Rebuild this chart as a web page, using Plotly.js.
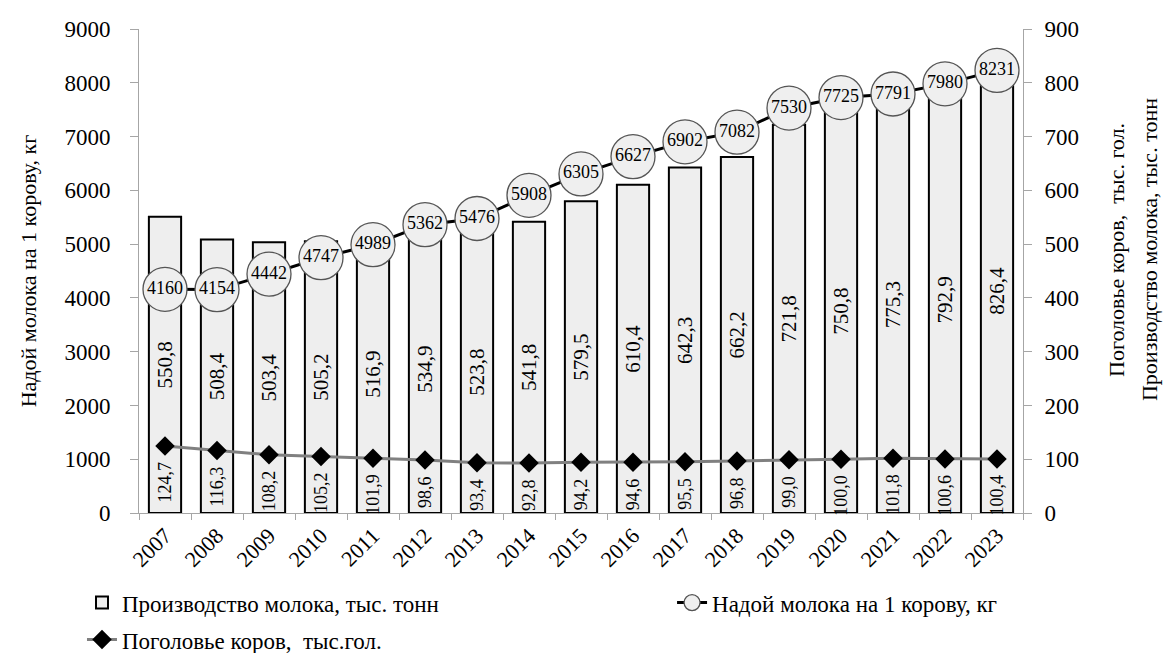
<!DOCTYPE html>
<html>
<head>
<meta charset="utf-8">
<script src="https://cdn.plot.ly/plotly-3.0.1.min.js"></script>
<style>html,body{margin:0;padding:0;background:#fff;}#chart{width:1164px;height:653px;}</style>
</head>
<body>
<div id="chart"></div>
<script>
var years = ['2007','2008','2009','2010','2011','2012','2013','2014','2015','2016','2017','2018','2019','2020','2021','2022','2023'];
var production = [550.8, 508.4, 503.4, 505.2, 516.9, 534.9, 523.8, 541.8, 579.5, 610.4, 642.3, 662.2, 721.8, 750.8, 775.3, 792.9, 826.4];
var milkYield = [4160, 4154, 4442, 4747, 4989, 5362, 5476, 5908, 6305, 6627, 6902, 7082, 7530, 7725, 7791, 7980, 8231];
var cows = [124.7, 116.3, 108.2, 105.2, 101.9, 98.6, 93.4, 92.8, 94.2, 94.6, 95.5, 96.8, 99.0, 100.0, 101.8, 100.6, 100.4];

var FONT = 'Liberation Serif, Times New Roman, serif';
function fmt(v){ return v.toFixed(1).replace('.', ','); }

var barTrace = {
  type: 'bar', name: 'Производство молока, тыс. тонн',
  x: years, y: production, yaxis: 'y',
  text: production.map(fmt), textposition: 'inside', insidetextanchor: 'middle',
  textangle: -90, textfont: {family: FONT, size: 21, color: '#000'},
  marker: {color: '#eeeeee', line: {color: '#000', width: 2}},
  legend: 'legend', legendgroup: 'a', hoverinfo: 'x+y', cliponaxis: false
};
var cowsTrace = {
  type: 'scatter', mode: 'lines+markers', name: 'Поголовье коров,  тыс.гол.',
  x: years, y: cows, yaxis: 'y',
  line: {color: '#808080', width: 3},
  marker: {symbol: 'diamond', size: 15, color: '#000'},
  legend: 'legend', legendgroup: 'c'
};
var yieldTrace = {
  type: 'scatter', mode: 'lines+markers+text', name: 'Надой молока на 1 корову, кг',
  x: years, y: milkYield, yaxis: 'y2',
  text: milkYield.map(String), textposition: 'middle center',
  textfont: {family: FONT, size: 18, color: '#000'},
  line: {color: '#000', width: 3},
  marker: {symbol: 'circle', size: 44, color: '#efefef', line: {color: '#555', width: 1.3}},
  legend: 'legend2', cliponaxis: false
};

var annotations = cows.map(function(v, i){
  return {x: i, y: v, xref: 'x', yref: 'y', text: fmt(v), showarrow: false,
    textangle: -90, xanchor: 'center', yanchor: 'top', yshift: -14,
    font: {family: FONT, size: 18, color: '#000'}};
});
annotations.push({xref: 'paper', yref: 'paper', x: 1.1063, y: 0.5434, xanchor: 'center', yanchor: 'middle',
  textangle: -90, showarrow: false, text: 'Поголовье коров,  тыс. гол.', font: {family: FONT, size: 22, color: '#000'}});
annotations.push({xref: 'paper', yref: 'paper', x: 1.1437, y: 0.5434, xanchor: 'center', yanchor: 'middle',
  textangle: -90, showarrow: false, text: 'Производство молока, тыс. тонн', font: {family: FONT, size: 22, color: '#000'}});

var layout = {
  width: 1164, height: 653,
  margin: {l: 139, r: 141, t: 29, b: 140},
  paper_bgcolor: '#fff', plot_bgcolor: '#fff',
  font: {family: FONT, color: '#000'},
  bargap: 0.38,
  showlegend: true,
  xaxis: {
    type: 'category', range: [-0.5, 16.5], tickangle: -45, tickfont: {family: FONT, size: 22, color: '#000'},
    ticks: 'outside', tickson: 'boundaries', ticklen: 6, tickcolor: '#a6a6a6',
    showline: true, linecolor: '#a6a6a6', linewidth: 1, showgrid: false, zeroline: false,
    automargin: false
  },
  yaxis: {
    side: 'right', range: [0, 900], dtick: 100, tick0: 0,
    tickfont: {family: FONT, size: 23, color: '#000'}, ticklabelstandoff: 8,
    ticks: 'outside', ticklen: 8, tickcolor: '#a6a6a6',
    showline: true, linecolor: '#a6a6a6', linewidth: 1, showgrid: false, zeroline: false,
    automargin: false
  },
  yaxis2: {
    overlaying: 'y', side: 'left', range: [0, 9000], dtick: 1000, tick0: 0,
    tickfont: {family: FONT, size: 23, color: '#000'}, ticklabelstandoff: 15,
    ticks: 'outside', ticklen: 8, tickcolor: '#a6a6a6',
    showline: true, linecolor: '#a6a6a6', linewidth: 1, showgrid: false, zeroline: false,
    title: {text: 'Надой молока на 1 корову, кг', font: {family: FONT, size: 22, color: '#000'}, standoff: 21},
    automargin: false
  },
  legend: {
    orientation: 'v', x: -0.0645, xanchor: 'left', xref: 'paper',
    y: 0.11, yanchor: 'top', yref: 'container',
    font: {family: FONT, size: 23, color: '#000'}, tracegroupgap: 4,
    bgcolor: 'rgba(0,0,0,0)', itemwidth: 30
  },
  legend2: {
    orientation: 'v', x: 0.603, xanchor: 'left', xref: 'paper',
    y: 0.11, yanchor: 'top', yref: 'container',
    font: {family: FONT, size: 23, color: '#000'},
    bgcolor: 'rgba(0,0,0,0)', itemwidth: 30
  },
  annotations: annotations
};

Plotly.newPlot('chart', [barTrace, cowsTrace, yieldTrace], layout, {displayModeBar: false, staticPlot: true});
</script>
</body>
</html>
